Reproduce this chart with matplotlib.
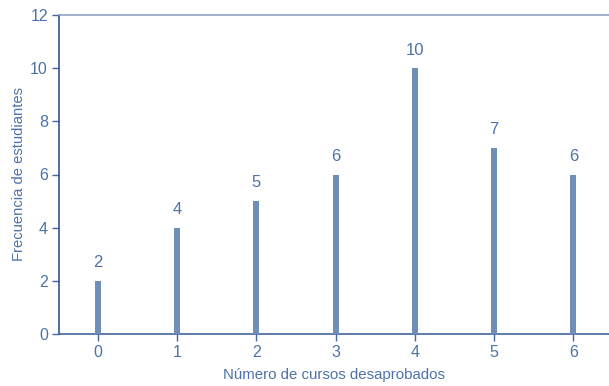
import matplotlib
matplotlib.use("Agg")
import matplotlib.pyplot as plt

cursos = [0, 1, 2, 3, 4, 5, 6]
frecuencias = [2, 4, 5, 6, 10, 7, 6]
yticks = [0, 2, 4, 6, 8, 10, 12]

bar_color = "#6f8fb9"
text_color = "#4d72a8"
axis_color = "#4466a0"

plt.rcParams["font.family"] = ["Liberation Sans", "DejaVu Sans"]

fig = plt.figure(figsize=(6.09, 3.86), dpi=100)
ax = fig.add_axes([59 / 609, 1 - 334 / 386, 1 - 59 / 609, (334 - 15) / 386])

ax.bar(cursos, frecuencias, width=0.075, color=bar_color, zorder=3)
for x, y in zip(cursos, frecuencias):
    ax.text(x, y + 0.4, str(y), ha="center", va="bottom", fontsize=12, color=text_color)

ax.set_xlim(-0.49, 6.45)
ax.set_ylim(0, 12)
ax.set_xticks(cursos)
ax.set_yticks(yticks)
ax.tick_params(axis="both", colors=axis_color, labelcolor=text_color, labelsize=11.5,
               length=5, width=1)
ax.tick_params(axis="y", pad=3)
ax.tick_params(axis="x", pad=3)

ax.spines["right"].set_visible(False)
ax.spines["left"].set_color("#35558e")
ax.spines["bottom"].set_color(axis_color)
ax.spines["top"].set_color("#8ea3c2")
for s in ax.spines.values():
    s.set_linewidth(1.2)

ax.set_xlabel("Número de cursos desaprobados", fontsize=10.8, color=text_color, labelpad=5.5)
ax.set_ylabel("Frecuencia de estudiantes", fontsize=10.6, color=text_color, labelpad=3)

fig.savefig("out.png", dpi=100, facecolor="white")
